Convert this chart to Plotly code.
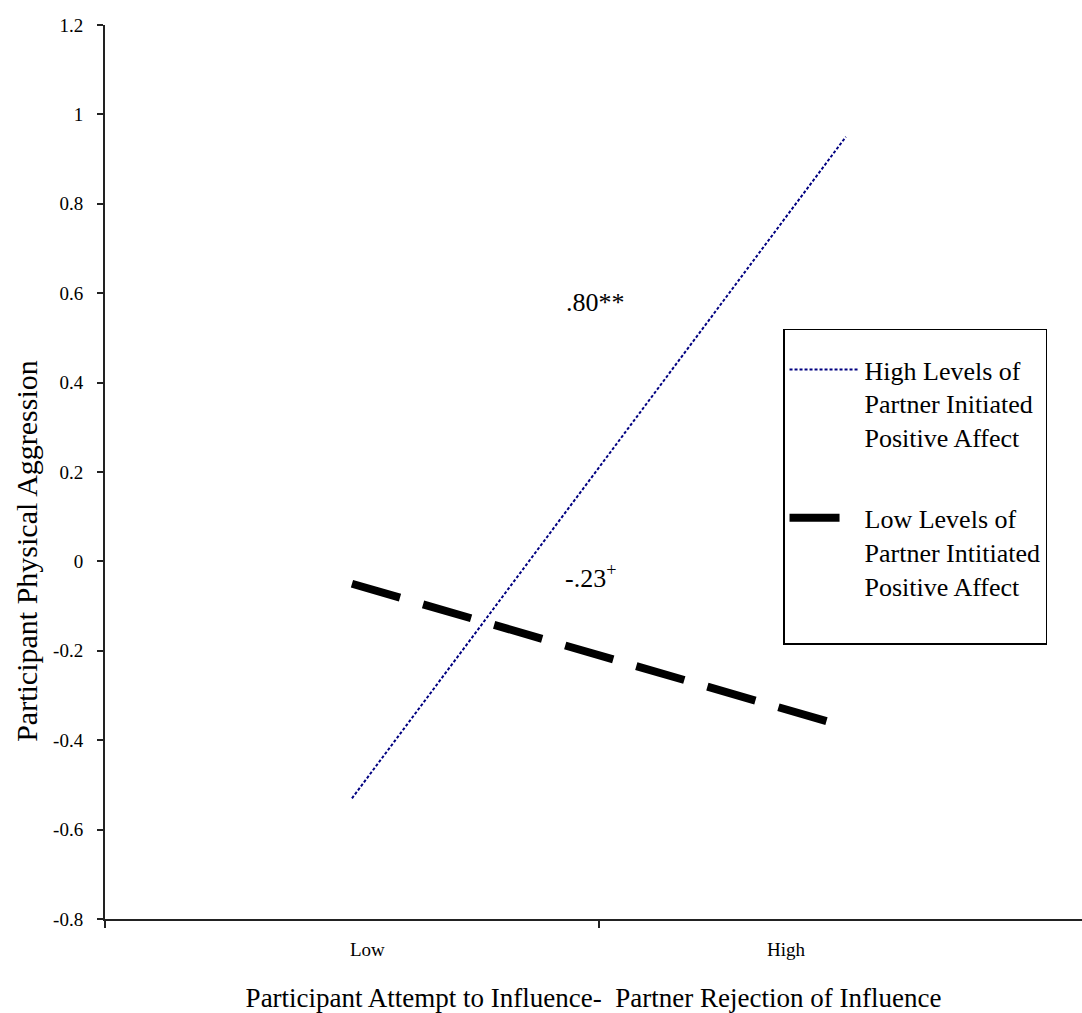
import plotly.graph_objects as go

# ---- data ----
categories = ["Low", "High"]
high_pa = [-0.53, 0.95]     # High Levels of Partner Initiated Positive Affect
low_pa = [-0.05, -0.37]     # Low Levels of Partner Initiated Positive Affect
series_names = ["High Levels of<br>Partner Initiated<br>Positive Affect",
                "Low Levels of<br>Partner Intitiated<br>Positive Affect"]
slope_labels = [".80**", "-.23<sup>+</sup>"]
y_ticks = [-0.8, -0.6, -0.4, -0.2, 0, 0.2, 0.4, 0.6, 0.8, 1.0, 1.2]
y_ticktext = ["-0.8", "-0.6", "-0.4", "-0.2", "0", "0.2", "0.4", "0.6", "0.8", "1", "1.2"]
x_title = "Participant Attempt to Influence-&nbsp; Partner Rejection of Influence"
y_title = "Participant Physical Aggression"

FONT = "Liberation Serif, Times New Roman, serif"

fig = go.Figure()
fig.add_trace(go.Scatter(
    x=categories, y=high_pa, mode="lines", name=series_names[0], legendgroup="g1",
    line=dict(color="#000080", width=2, dash="3px,2px"),
))
fig.add_trace(go.Scatter(
    x=categories, y=low_pa, mode="lines", name=series_names[1] + "<br>&nbsp;", legendgroup="g2",
    line=dict(color="black", width=8, dash="50px,24px"),
))

fig.update_layout(
    width=1082, height=1013,
    margin=dict(l=105, r=0, t=25, b=92),
    paper_bgcolor="white", plot_bgcolor="white",
    font=dict(family=FONT, color="black", size=19),
    showlegend=True,
    legend=dict(
        x=0.694, y=0.66, xanchor="left", yanchor="top",
        bordercolor="black", borderwidth=1.5, bgcolor="white",
        font=dict(family=FONT, size=26, color="black"),
        itemwidth=70, valign="top", tracegroupgap=44,
        title=dict(text="&nbsp;", font=dict(family=FONT, size=12)),
    ),
    xaxis=dict(
        type="category", range=[-0.5, 1.478],
        tickson="boundaries", ticks="outside", ticklen=7, tickwidth=1.5,
        tickcolor="#222", showticklabels=False,
        showline=True, linecolor="#222", linewidth=2,
        showgrid=False, zeroline=False,
        title=dict(text=x_title, font=dict(family=FONT, size=27), standoff=68),
    ),
    yaxis=dict(
        range=[-0.8, 1.2], tickvals=y_ticks, ticktext=y_ticktext,
        ticks="outside", ticklen=6, tickwidth=1.5, tickcolor="#222",
        ticklabelstandoff=10,
        showline=True, linecolor="#222", linewidth=2,
        showgrid=False, zeroline=False,
    ),
)

# y-axis title (placed to match the reference position)
fig.add_annotation(text=y_title, xref="paper", yref="paper",
                   x=(27 - 105) / 977, y=(921 - 552) / 896, xanchor="center", yanchor="middle",
                   textangle=-90, showarrow=False, font=dict(family=FONT, size=30))

# category labels placed under the axis
label_pos = [0.269, 0.698]
for lab, px in zip(categories, label_pos):
    fig.add_annotation(text=lab, xref="paper", yref="paper", x=px, y=-0.0346,
                       xanchor="center", yanchor="middle", showarrow=False,
                       font=dict(family=FONT, size=19))

# slope annotations
slope_pos = [(0.494, 0.579), (0.482, -0.034)]
for txt, (ax_, ay_) in zip(slope_labels, slope_pos):
    fig.add_annotation(text=txt, x=ax_, y=ay_, xref="x", yref="y",
                       showarrow=False, font=dict(family=FONT, size=26))

fig.write_html("out.html")
